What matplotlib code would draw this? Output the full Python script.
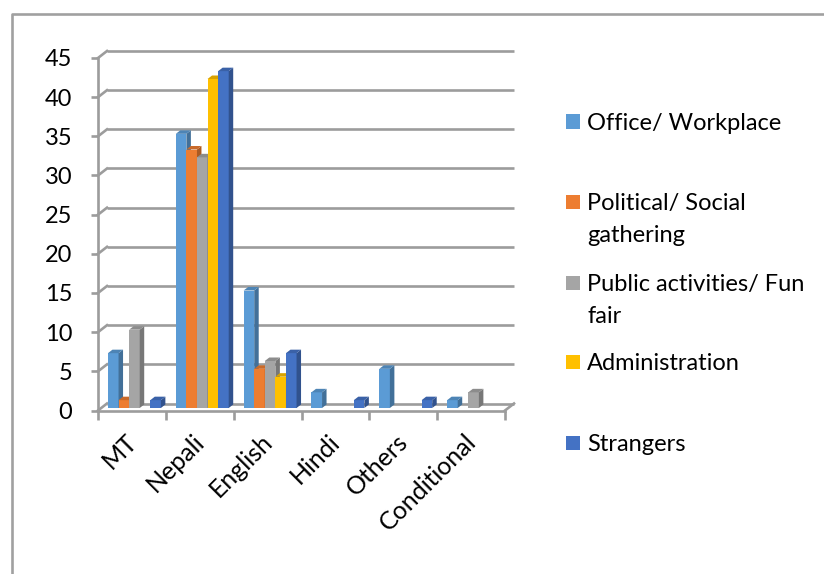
import matplotlib
matplotlib.use("Agg")
import matplotlib.pyplot as plt
import matplotlib.colors as mcolors
import numpy as np
from matplotlib.patches import Polygon
from matplotlib.lines import Line2D
from matplotlib.transforms import IdentityTransform, offset_copy, ScaledTranslation

# ---------------- data ----------------
categories = ["MT", "Nepali", "English", "Hindi", "Others", "Conditional"]
series_names = ["Office/ Workplace", "Political/ Social\ngathering",
                "Public activities/ Fun\nfair", "Administration", "Strangers"]
office = [7, 35, 15, 2, 5, 1]
political = [1, 33, 5, 0, 0, 0]
public = [10, 32, 6, 0, 0, 2]
administration = [0, 42, 4, 0, 0, 0]
strangers = [1, 43, 7, 1, 1, 0]
y_ticks = [0, 5, 10, 15, 20, 25, 30, 35, 40, 45]

series_values = [office, political, public, administration, strangers]
colors = ["#5B9BD5", "#ED7D31", "#A5A5A5", "#FFC000", "#4472C4"]

# ---------------- style ----------------
plt.rcParams["font.family"] = ["Lato", "DejaVu Sans"]
FS = 17
GRID = "#9C9C9C"
W, H = 824, 574

fig = plt.figure(figsize=(W / 100, H / 100), dpi=100)
fig.patch.set_facecolor("white")


def fx(px):
    return px / W


def fy(py):
    return 1 - py / H


ax = fig.add_axes([fx(98), fy(410.5), (505 - 98) / W, (410.5 - 58) / H])
ax.set_xlim(-0.5, len(categories) - 0.5)
ax.set_ylim(0, 45)
ax.patch.set_alpha(0)

for s in ["top", "right"]:
    ax.spines[s].set_visible(False)
for s in ["left", "bottom"]:
    ax.spines[s].set_color(GRID)
    ax.spines[s].set_linewidth(1.9)

# 3D wall offsets (pixels)
WX, WY = 9, 7
ident = IdentityTransform()

# back-wall gridlines + diagonals
back = offset_copy(ax.transData, fig=fig, x=WX, y=WY, units="dots")
x0, x1 = ax.get_xlim()
for v in y_ticks:
    ax.plot([x0, x1], [v, v], color=GRID, lw=1.9, transform=back,
            zorder=0.5, clip_on=False, solid_capstyle="butt")
    p = ax.transData.transform((x0, v))
    ax.add_line(Line2D([p[0], p[0] + WX], [p[1], p[1] + WY], color=GRID,
                       lw=1.9, transform=ident, zorder=0.5, clip_on=False))
pr = ax.transData.transform((x1, 0))
ax.add_line(Line2D([pr[0], pr[0] + WX], [pr[1], pr[1] + WY], color=GRID,
                   lw=1.9, transform=ident, zorder=0.5, clip_on=False))

# bars with pseudo-3D faces
n = len(series_values)
bw = 0.156
FX, FYo = 2.5, 2.5     # front face offset
DX, DY = 4.5, 3.5      # bar depth
front = offset_copy(ax.transData, fig=fig, x=FX, y=FYo, units="dots")


def shade(c, f):
    r, g, b = mcolors.to_rgb(c)
    return (r * f, g * f, b * f)


z = 2.0
for i in range(len(categories)):
    for j in range(n):
        v = series_values[j][i]
        xl = i - n * bw / 2 + j * bw
        col = colors[j]
        ax.bar(xl, v, width=bw, align="edge", color=col, linewidth=0,
               transform=front, zorder=z)
        if v > 0:
            a = ax.transData.transform((xl, 0)) + (FX, FYo)
            b = ax.transData.transform((xl + bw, v)) + (FX, FYo)
            side = [(b[0], a[1]), (b[0], b[1]), (b[0] + DX, b[1] + DY), (b[0] + DX, a[1] + DY)]
            top = [(a[0], b[1]), (b[0], b[1]), (b[0] + DX, b[1] + DY), (a[0] + DX, b[1] + DY)]
            ax.add_patch(Polygon(side, closed=True, facecolor=shade(col, 0.72),
                                 edgecolor="none", transform=ident, zorder=z, clip_on=False))
            ax.add_patch(Polygon(top, closed=True, facecolor=shade(col, 0.85),
                                 edgecolor="none", transform=ident, zorder=z, clip_on=False))
        z += 0.01

# ticks
ax.set_yticks(y_ticks)
ax.set_yticklabels([str(t) for t in y_ticks])
ax.tick_params(axis="y", length=5, width=1.9, color=GRID, pad=13.5,
               labelsize=FS, labelcolor="black")

ax.set_xticks(range(len(categories)))
ax.set_xticklabels(categories, rotation=45, ha="right")
ax.set_xticks(np.arange(-0.5, len(categories), 1.0), minor=True)
ax.tick_params(axis="x", which="major", length=0, pad=14, labelsize=18,
               labelcolor="black")
ax.tick_params(axis="x", which="minor", length=6.5, width=1.9, color=GRID)
shift = ScaledTranslation(9 / 100, 0, fig.dpi_scale_trans)
for lab in ax.get_xticklabels():
    lab.set_transform(lab.get_transform() + shift)

# legend (manual, Excel-like spacing)
leg_y = [121.5, 201.5, 282.5, 362, 442.5]
msz = 14
line_h = 32
for name, col, yc in zip(series_names, colors, leg_y):
    fig.patches.append(plt.Rectangle((fx(566), fy(yc + msz / 2)), msz / W, msz / H,
                                     transform=fig.transFigure, facecolor=col,
                                     edgecolor="none", figure=fig))
    for k, line in enumerate(name.split("\n")):
        fig.text(fx(587), fy(yc + 8.5 + k * line_h), line, fontsize=FS,
                 va="baseline", ha="left", color="black")

# outer chart border (runs off right and bottom)
fig.add_artist(Line2D([fx(11.5), fx(11.5), 1.0], [0.0, fy(13.5), fy(13.5)],
                      transform=fig.transFigure, color="#A0A0A0", lw=1.9))

fig.savefig("out.png", dpi=100)
